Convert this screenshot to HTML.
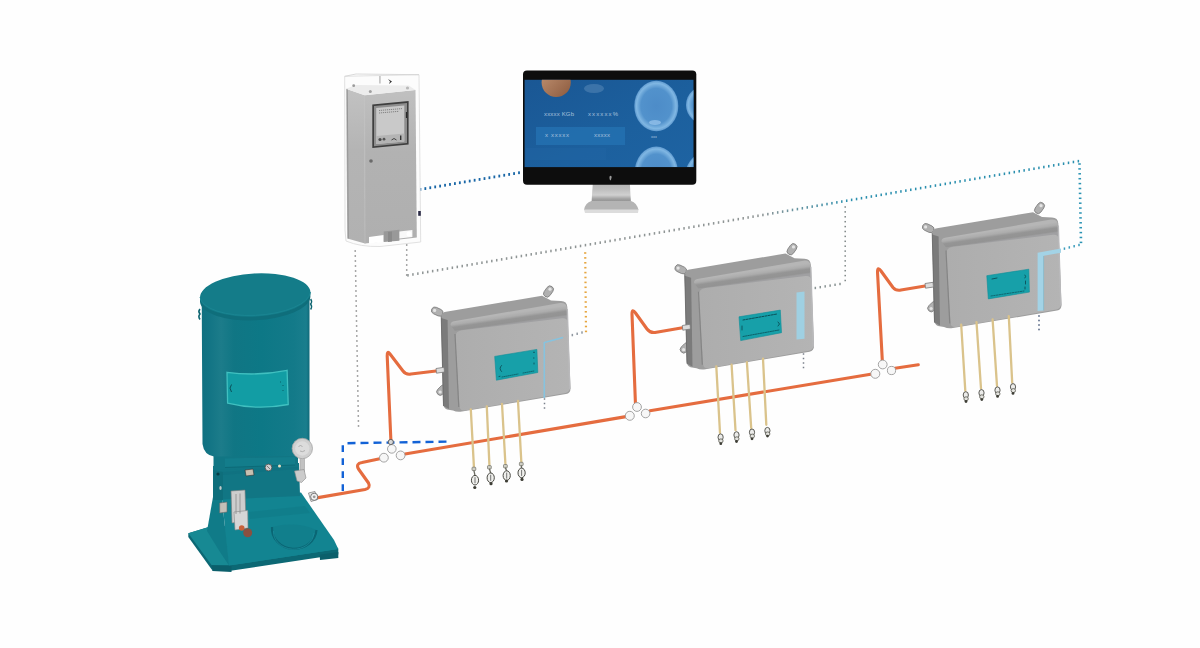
<!DOCTYPE html>
<html><head><meta charset="utf-8">
<style>
html,body{margin:0;padding:0;background:#fefefe;width:1200px;height:648px;overflow:hidden;font-family:"Liberation Sans",sans-serif;}
svg{display:block;position:absolute;left:0;top:0;}
</style></head>
<body>
<svg width="1200" height="648" viewBox="0 0 1200 648">
<defs>
  <linearGradient id="tankG" x1="0" x2="1" y1="0" y2="0">
    <stop offset="0" stop-color="#107080"/>
    <stop offset="0.08" stop-color="#137585"/>
    <stop offset="0.18" stop-color="#1c7c8a"/>
    <stop offset="0.3" stop-color="#107684"/>
    <stop offset="0.55" stop-color="#0d7886"/>
    <stop offset="0.85" stop-color="#137a89"/>
    <stop offset="0.97" stop-color="#1a7e8d"/>
    <stop offset="1" stop-color="#106a7a"/>
  </linearGradient>
  <linearGradient id="screenG" x1="0" x2="1" y1="0" y2="1">
    <stop offset="0" stop-color="#1a5794"/>
    <stop offset="0.6" stop-color="#1c609e"/>
    <stop offset="1" stop-color="#1e63a2"/>
  </linearGradient>
</defs>

<!-- ===== dotted network lines ===== -->
<g id="dots">
<rect x="354.45" y="250.25" width="1.50" height="1.50" fill="#8a8a8a"/>
<rect x="354.54" y="255.25" width="1.50" height="1.50" fill="#8a8a8a"/>
<rect x="354.64" y="260.25" width="1.50" height="1.50" fill="#8a8a8a"/>
<rect x="354.73" y="265.25" width="1.50" height="1.50" fill="#8a8a8a"/>
<rect x="354.83" y="270.25" width="1.50" height="1.50" fill="#8a8a8a"/>
<rect x="354.92" y="275.25" width="1.50" height="1.50" fill="#8a8a8a"/>
<rect x="355.02" y="280.24" width="1.50" height="1.50" fill="#8a8a8a"/>
<rect x="355.11" y="285.24" width="1.50" height="1.50" fill="#8a8a8a"/>
<rect x="355.20" y="290.24" width="1.50" height="1.50" fill="#8a8a8a"/>
<rect x="355.30" y="295.24" width="1.50" height="1.50" fill="#8a8a8a"/>
<rect x="355.39" y="300.24" width="1.50" height="1.50" fill="#8a8a8a"/>
<rect x="355.49" y="305.24" width="1.50" height="1.50" fill="#8a8a8a"/>
<rect x="355.58" y="310.24" width="1.50" height="1.50" fill="#8a8a8a"/>
<rect x="355.68" y="315.24" width="1.50" height="1.50" fill="#8a8a8a"/>
<rect x="355.77" y="320.24" width="1.50" height="1.50" fill="#8a8a8a"/>
<rect x="355.86" y="325.24" width="1.50" height="1.50" fill="#8a8a8a"/>
<rect x="355.96" y="330.24" width="1.50" height="1.50" fill="#8a8a8a"/>
<rect x="356.05" y="335.23" width="1.50" height="1.50" fill="#8a8a8a"/>
<rect x="356.15" y="340.23" width="1.50" height="1.50" fill="#8a8a8a"/>
<rect x="356.24" y="345.23" width="1.50" height="1.50" fill="#8a8a8a"/>
<rect x="356.34" y="350.23" width="1.50" height="1.50" fill="#8a8a8a"/>
<rect x="356.43" y="355.23" width="1.50" height="1.50" fill="#8a8a8a"/>
<rect x="356.52" y="360.23" width="1.50" height="1.50" fill="#8a8a8a"/>
<rect x="356.62" y="365.23" width="1.50" height="1.50" fill="#8a8a8a"/>
<rect x="356.71" y="370.23" width="1.50" height="1.50" fill="#8a8a8a"/>
<rect x="356.81" y="375.23" width="1.50" height="1.50" fill="#8a8a8a"/>
<rect x="356.90" y="380.23" width="1.50" height="1.50" fill="#8a8a8a"/>
<rect x="357.00" y="385.23" width="1.50" height="1.50" fill="#8a8a8a"/>
<rect x="357.09" y="390.23" width="1.50" height="1.50" fill="#8a8a8a"/>
<rect x="357.18" y="395.22" width="1.50" height="1.50" fill="#8a8a8a"/>
<rect x="357.28" y="400.22" width="1.50" height="1.50" fill="#8a8a8a"/>
<rect x="357.37" y="405.22" width="1.50" height="1.50" fill="#8a8a8a"/>
<rect x="357.47" y="410.22" width="1.50" height="1.50" fill="#8a8a8a"/>
<rect x="357.56" y="415.22" width="1.50" height="1.50" fill="#8a8a8a"/>
<rect x="357.66" y="420.22" width="1.50" height="1.50" fill="#8a8a8a"/>
<rect x="357.75" y="425.22" width="1.50" height="1.50" fill="#8a8a8a"/>
<rect x="405.95" y="244.25" width="1.50" height="1.50" fill="#8a8a8a"/>
<rect x="405.95" y="249.25" width="1.50" height="1.50" fill="#8a8a8a"/>
<rect x="405.95" y="254.25" width="1.50" height="1.50" fill="#8a8a8a"/>
<rect x="405.95" y="259.25" width="1.50" height="1.50" fill="#8a8a8a"/>
<rect x="405.95" y="264.25" width="1.50" height="1.50" fill="#8a8a8a"/>
<rect x="405.95" y="269.25" width="1.50" height="1.50" fill="#8a8a8a"/>
<rect x="405.95" y="274.25" width="1.50" height="1.50" fill="#8a8a8a"/>
<rect x="407.25" y="274.00" width="1.50" height="2.60" fill="#8f9595"/>
<rect x="412.18" y="273.16" width="1.50" height="2.60" fill="#8f9595"/>
<rect x="417.11" y="272.32" width="1.50" height="2.60" fill="#8f9595"/>
<rect x="422.04" y="271.49" width="1.50" height="2.60" fill="#8f9595"/>
<rect x="426.97" y="270.65" width="1.50" height="2.60" fill="#8f9595"/>
<rect x="431.90" y="269.81" width="1.50" height="2.60" fill="#8f9595"/>
<rect x="436.83" y="268.97" width="1.50" height="2.60" fill="#8f9595"/>
<rect x="441.75" y="268.13" width="1.50" height="2.60" fill="#8f9595"/>
<rect x="446.68" y="267.30" width="1.50" height="2.60" fill="#8f9595"/>
<rect x="451.61" y="266.46" width="1.50" height="2.60" fill="#8f9595"/>
<rect x="456.54" y="265.62" width="1.50" height="2.60" fill="#8f9595"/>
<rect x="461.47" y="264.78" width="1.50" height="2.60" fill="#8f9595"/>
<rect x="466.40" y="263.94" width="1.50" height="2.60" fill="#8f9595"/>
<rect x="471.33" y="263.11" width="1.50" height="2.60" fill="#8f9595"/>
<rect x="476.26" y="262.27" width="1.50" height="2.60" fill="#8f9595"/>
<rect x="481.19" y="261.43" width="1.50" height="2.60" fill="#8f9595"/>
<rect x="486.12" y="260.59" width="1.50" height="2.60" fill="#8f9595"/>
<rect x="491.05" y="259.75" width="1.50" height="2.60" fill="#8f9595"/>
<rect x="495.98" y="258.92" width="1.50" height="2.60" fill="#8f9595"/>
<rect x="500.91" y="258.08" width="1.50" height="2.60" fill="#8f9595"/>
<rect x="505.84" y="257.24" width="1.50" height="2.60" fill="#8f9595"/>
<rect x="510.76" y="256.40" width="1.50" height="2.60" fill="#8f9595"/>
<rect x="515.69" y="255.56" width="1.50" height="2.60" fill="#8f9595"/>
<rect x="520.62" y="254.73" width="1.50" height="2.60" fill="#8f9595"/>
<rect x="525.55" y="253.89" width="1.50" height="2.60" fill="#8f9595"/>
<rect x="530.48" y="253.05" width="1.50" height="2.60" fill="#8f9595"/>
<rect x="535.41" y="252.21" width="1.50" height="2.60" fill="#8f9595"/>
<rect x="540.34" y="251.37" width="1.50" height="2.60" fill="#8f9595"/>
<rect x="545.27" y="250.54" width="1.50" height="2.60" fill="#8f9595"/>
<rect x="550.20" y="249.70" width="1.50" height="2.60" fill="#8f9595"/>
<rect x="555.13" y="248.86" width="1.50" height="2.60" fill="#8f9595"/>
<rect x="560.06" y="248.02" width="1.50" height="2.60" fill="#8f9595"/>
<rect x="564.99" y="247.18" width="1.50" height="2.60" fill="#8f9595"/>
<rect x="569.92" y="246.35" width="1.50" height="2.60" fill="#8f9595"/>
<rect x="574.85" y="245.51" width="1.50" height="2.60" fill="#8f9595"/>
<rect x="579.77" y="244.67" width="1.50" height="2.60" fill="#8f9595"/>
<rect x="584.70" y="243.83" width="1.50" height="2.60" fill="#8f9595"/>
<rect x="589.63" y="242.99" width="1.50" height="2.60" fill="#8f9595"/>
<rect x="594.56" y="242.16" width="1.50" height="2.60" fill="#8f9595"/>
<rect x="599.49" y="241.32" width="1.50" height="2.60" fill="#8f9595"/>
<rect x="604.42" y="240.48" width="1.50" height="2.60" fill="#8f9595"/>
<rect x="609.35" y="239.64" width="1.50" height="2.60" fill="#8f9595"/>
<rect x="614.28" y="238.80" width="1.50" height="2.60" fill="#8f9595"/>
<rect x="619.21" y="237.97" width="1.50" height="2.60" fill="#8f9595"/>
<rect x="624.14" y="237.13" width="1.50" height="2.60" fill="#8f9595"/>
<rect x="629.07" y="236.29" width="1.50" height="2.60" fill="#8f9595"/>
<rect x="634.00" y="235.45" width="1.50" height="2.60" fill="#8f9595"/>
<rect x="638.93" y="234.62" width="1.50" height="2.60" fill="#8f9595"/>
<rect x="643.86" y="233.78" width="1.50" height="2.60" fill="#8f9595"/>
<rect x="648.78" y="232.94" width="1.50" height="2.60" fill="#8f9595"/>
<rect x="653.71" y="232.10" width="1.50" height="2.60" fill="#8f9595"/>
<rect x="658.64" y="231.26" width="1.50" height="2.60" fill="#8f9595"/>
<rect x="663.57" y="230.43" width="1.50" height="2.60" fill="#8f9595"/>
<rect x="668.50" y="229.59" width="1.50" height="2.60" fill="#8f9595"/>
<rect x="673.43" y="228.75" width="1.50" height="2.60" fill="#8f9595"/>
<rect x="678.36" y="227.91" width="1.50" height="2.60" fill="#8f9595"/>
<rect x="683.29" y="227.07" width="1.50" height="2.60" fill="#8f9595"/>
<rect x="688.22" y="226.24" width="1.50" height="2.60" fill="#8f9595"/>
<rect x="693.15" y="225.40" width="1.50" height="2.60" fill="#8f9595"/>
<rect x="698.08" y="224.56" width="1.50" height="2.60" fill="#8f9595"/>
<rect x="703.01" y="223.72" width="1.50" height="2.60" fill="#8f9595"/>
<rect x="707.94" y="222.88" width="1.50" height="2.60" fill="#8f9595"/>
<rect x="712.87" y="222.05" width="1.50" height="2.60" fill="#8f9595"/>
<rect x="717.79" y="221.21" width="1.50" height="2.60" fill="#8f9595"/>
<rect x="722.72" y="220.37" width="1.50" height="2.60" fill="#8f9595"/>
<rect x="727.65" y="219.53" width="1.50" height="2.60" fill="#8f9595"/>
<rect x="732.58" y="218.69" width="1.50" height="2.60" fill="#8f9595"/>
<rect x="737.51" y="217.86" width="1.50" height="2.60" fill="#8f9595"/>
<rect x="742.44" y="217.02" width="1.50" height="2.60" fill="#8f9595"/>
<rect x="747.37" y="216.18" width="1.50" height="2.60" fill="#8f9595"/>
<rect x="752.30" y="215.34" width="1.50" height="2.60" fill="#8f9595"/>
<rect x="757.23" y="214.50" width="1.50" height="2.60" fill="#8f9595"/>
<rect x="762.16" y="213.67" width="1.50" height="2.60" fill="#8c9596"/>
<rect x="767.09" y="212.83" width="1.50" height="2.60" fill="#869497"/>
<rect x="772.02" y="211.99" width="1.50" height="2.60" fill="#819499"/>
<rect x="776.95" y="211.15" width="1.50" height="2.60" fill="#7b949a"/>
<rect x="781.88" y="210.31" width="1.50" height="2.60" fill="#76939b"/>
<rect x="786.80" y="209.48" width="1.50" height="2.60" fill="#70939d"/>
<rect x="791.73" y="208.64" width="1.50" height="2.60" fill="#6b939e"/>
<rect x="796.66" y="207.80" width="1.50" height="2.60" fill="#65939f"/>
<rect x="801.59" y="206.96" width="1.50" height="2.60" fill="#5f92a1"/>
<rect x="806.52" y="206.12" width="1.50" height="2.60" fill="#5a92a2"/>
<rect x="811.45" y="205.29" width="1.50" height="2.60" fill="#5492a4"/>
<rect x="816.38" y="204.45" width="1.50" height="2.60" fill="#4f91a5"/>
<rect x="821.31" y="203.61" width="1.50" height="2.60" fill="#4991a6"/>
<rect x="826.24" y="202.77" width="1.50" height="2.60" fill="#4491a8"/>
<rect x="831.17" y="201.93" width="1.50" height="2.60" fill="#3e90a9"/>
<rect x="836.10" y="201.10" width="1.50" height="2.60" fill="#3990aa"/>
<rect x="841.03" y="200.26" width="1.50" height="2.60" fill="#3390ac"/>
<rect x="845.96" y="199.42" width="1.50" height="2.60" fill="#2e8fad"/>
<rect x="850.88" y="198.58" width="1.50" height="2.60" fill="#2a8fae"/>
<rect x="855.81" y="197.74" width="1.50" height="2.60" fill="#2a8fae"/>
<rect x="860.74" y="196.90" width="1.50" height="2.60" fill="#2a8fae"/>
<rect x="865.67" y="196.05" width="1.50" height="2.60" fill="#2a8fae"/>
<rect x="870.60" y="195.21" width="1.50" height="2.60" fill="#2a8fae"/>
<rect x="875.53" y="194.37" width="1.50" height="2.60" fill="#2a8fae"/>
<rect x="880.46" y="193.53" width="1.50" height="2.60" fill="#2a8fae"/>
<rect x="885.39" y="192.69" width="1.50" height="2.60" fill="#2a8fae"/>
<rect x="890.31" y="191.85" width="1.50" height="2.60" fill="#2a8fae"/>
<rect x="895.24" y="191.00" width="1.50" height="2.60" fill="#2a8fae"/>
<rect x="900.17" y="190.16" width="1.50" height="2.60" fill="#2a8fae"/>
<rect x="905.10" y="189.32" width="1.50" height="2.60" fill="#2a8fae"/>
<rect x="910.03" y="188.48" width="1.50" height="2.60" fill="#2a8fae"/>
<rect x="914.96" y="187.64" width="1.50" height="2.60" fill="#2a8fae"/>
<rect x="919.89" y="186.80" width="1.50" height="2.60" fill="#2a8fae"/>
<rect x="924.81" y="185.95" width="1.50" height="2.60" fill="#2a8fae"/>
<rect x="929.74" y="185.11" width="1.50" height="2.60" fill="#2a8fae"/>
<rect x="934.67" y="184.27" width="1.50" height="2.60" fill="#2a8fae"/>
<rect x="939.60" y="183.43" width="1.50" height="2.60" fill="#2a8fae"/>
<rect x="944.53" y="182.59" width="1.50" height="2.60" fill="#2a8fae"/>
<rect x="949.46" y="181.75" width="1.50" height="2.60" fill="#2a8fae"/>
<rect x="954.39" y="180.90" width="1.50" height="2.60" fill="#2a8fae"/>
<rect x="959.31" y="180.06" width="1.50" height="2.60" fill="#2a8fae"/>
<rect x="964.24" y="179.22" width="1.50" height="2.60" fill="#2a8fae"/>
<rect x="969.17" y="178.38" width="1.50" height="2.60" fill="#2a8fae"/>
<rect x="974.10" y="177.54" width="1.50" height="2.60" fill="#2a8fae"/>
<rect x="979.03" y="176.70" width="1.50" height="2.60" fill="#2a8fae"/>
<rect x="983.96" y="175.85" width="1.50" height="2.60" fill="#2a8fae"/>
<rect x="988.89" y="175.01" width="1.50" height="2.60" fill="#2a8fae"/>
<rect x="993.82" y="174.17" width="1.50" height="2.60" fill="#2a8fae"/>
<rect x="998.74" y="173.33" width="1.50" height="2.60" fill="#2a8fae"/>
<rect x="1003.67" y="172.49" width="1.50" height="2.60" fill="#2a8fae"/>
<rect x="1008.60" y="171.65" width="1.50" height="2.60" fill="#2a8fae"/>
<rect x="1013.53" y="170.80" width="1.50" height="2.60" fill="#2a8fae"/>
<rect x="1018.46" y="169.96" width="1.50" height="2.60" fill="#2a8fae"/>
<rect x="1023.39" y="169.12" width="1.50" height="2.60" fill="#2a8fae"/>
<rect x="1028.32" y="168.28" width="1.50" height="2.60" fill="#2a8fae"/>
<rect x="1033.24" y="167.44" width="1.50" height="2.60" fill="#2a8fae"/>
<rect x="1038.17" y="166.60" width="1.50" height="2.60" fill="#2a8fae"/>
<rect x="1043.10" y="165.75" width="1.50" height="2.60" fill="#2a8fae"/>
<rect x="1048.03" y="164.91" width="1.50" height="2.60" fill="#2a8fae"/>
<rect x="1052.96" y="164.07" width="1.50" height="2.60" fill="#2a8fae"/>
<rect x="1057.89" y="163.23" width="1.50" height="2.60" fill="#2a8fae"/>
<rect x="1062.82" y="162.39" width="1.50" height="2.60" fill="#2a8fae"/>
<rect x="1067.75" y="161.55" width="1.50" height="2.60" fill="#2a8fae"/>
<rect x="1072.67" y="160.70" width="1.50" height="2.60" fill="#2a8fae"/>
<rect x="1077.60" y="159.86" width="1.50" height="2.60" fill="#2a8fae"/>
<rect x="1078.20" y="163.25" width="2.60" height="1.50" fill="#2a93b3"/>
<rect x="1078.29" y="168.15" width="2.60" height="1.50" fill="#2a93b3"/>
<rect x="1078.39" y="173.05" width="2.60" height="1.50" fill="#2a93b3"/>
<rect x="1078.48" y="177.95" width="2.60" height="1.50" fill="#2a93b3"/>
<rect x="1078.57" y="182.85" width="2.60" height="1.50" fill="#2a93b3"/>
<rect x="1078.67" y="187.75" width="2.60" height="1.50" fill="#2a93b3"/>
<rect x="1078.76" y="192.64" width="2.60" height="1.50" fill="#2a93b3"/>
<rect x="1078.85" y="197.54" width="2.60" height="1.50" fill="#2a93b3"/>
<rect x="1078.95" y="202.44" width="2.60" height="1.50" fill="#2a93b3"/>
<rect x="1079.04" y="207.34" width="2.60" height="1.50" fill="#2a93b3"/>
<rect x="1079.13" y="212.24" width="2.60" height="1.50" fill="#2a93b3"/>
<rect x="1079.23" y="217.14" width="2.60" height="1.50" fill="#2a93b3"/>
<rect x="1079.32" y="222.04" width="2.60" height="1.50" fill="#2a93b3"/>
<rect x="1079.41" y="226.94" width="2.60" height="1.50" fill="#2a93b3"/>
<rect x="1079.51" y="231.84" width="2.60" height="1.50" fill="#2a93b3"/>
<rect x="1079.60" y="236.74" width="2.60" height="1.50" fill="#2a93b3"/>
<rect x="1079.69" y="241.64" width="2.60" height="1.50" fill="#2a93b3"/>
<rect x="1078.25" y="243.80" width="1.50" height="2.40" fill="#3a9cbc"/>
<rect x="1073.40" y="245.01" width="1.50" height="2.40" fill="#3a9cbc"/>
<rect x="1068.55" y="246.23" width="1.50" height="2.40" fill="#3a9cbc"/>
<rect x="1063.70" y="247.44" width="1.50" height="2.40" fill="#3a9cbc"/>
<rect x="419.50" y="188.00" width="1.80" height="2.80" fill="#1866a6"/>
<rect x="424.43" y="187.17" width="1.80" height="2.80" fill="#1866a6"/>
<rect x="429.36" y="186.33" width="1.80" height="2.80" fill="#1866a6"/>
<rect x="434.29" y="185.50" width="1.80" height="2.80" fill="#1866a6"/>
<rect x="439.22" y="184.67" width="1.80" height="2.80" fill="#1866a6"/>
<rect x="444.15" y="183.84" width="1.80" height="2.80" fill="#1866a6"/>
<rect x="449.08" y="183.00" width="1.80" height="2.80" fill="#1866a6"/>
<rect x="454.01" y="182.17" width="1.80" height="2.80" fill="#1866a6"/>
<rect x="458.94" y="181.34" width="1.80" height="2.80" fill="#1866a6"/>
<rect x="463.87" y="180.50" width="1.80" height="2.80" fill="#1866a6"/>
<rect x="468.80" y="179.67" width="1.80" height="2.80" fill="#1866a6"/>
<rect x="473.73" y="178.84" width="1.80" height="2.80" fill="#1866a6"/>
<rect x="478.66" y="178.00" width="1.80" height="2.80" fill="#1866a6"/>
<rect x="483.59" y="177.17" width="1.80" height="2.80" fill="#1866a6"/>
<rect x="488.52" y="176.34" width="1.80" height="2.80" fill="#1866a6"/>
<rect x="493.45" y="175.51" width="1.80" height="2.80" fill="#1866a6"/>
<rect x="498.38" y="174.67" width="1.80" height="2.80" fill="#1866a6"/>
<rect x="503.31" y="173.84" width="1.80" height="2.80" fill="#1866a6"/>
<rect x="508.24" y="173.01" width="1.80" height="2.80" fill="#1866a6"/>
<rect x="513.17" y="172.17" width="1.80" height="2.80" fill="#1866a6"/>
<rect x="518.10" y="171.34" width="1.80" height="2.80" fill="#1866a6"/>
<rect x="844.45" y="206.25" width="1.50" height="1.50" fill="#7e8686"/>
<rect x="844.45" y="211.15" width="1.50" height="1.50" fill="#7e8686"/>
<rect x="844.45" y="216.05" width="1.50" height="1.50" fill="#7e8686"/>
<rect x="844.45" y="220.95" width="1.50" height="1.50" fill="#7e8686"/>
<rect x="844.45" y="225.85" width="1.50" height="1.50" fill="#7e8686"/>
<rect x="844.45" y="230.75" width="1.50" height="1.50" fill="#7e8686"/>
<rect x="844.45" y="235.65" width="1.50" height="1.50" fill="#7e8686"/>
<rect x="844.45" y="240.55" width="1.50" height="1.50" fill="#7e8686"/>
<rect x="844.45" y="245.45" width="1.50" height="1.50" fill="#7e8686"/>
<rect x="844.45" y="250.35" width="1.50" height="1.50" fill="#7e8686"/>
<rect x="844.45" y="255.25" width="1.50" height="1.50" fill="#7e8686"/>
<rect x="844.45" y="260.15" width="1.50" height="1.50" fill="#7e8686"/>
<rect x="844.45" y="265.05" width="1.50" height="1.50" fill="#7e8686"/>
<rect x="844.45" y="269.95" width="1.50" height="1.50" fill="#7e8686"/>
<rect x="844.45" y="274.85" width="1.50" height="1.50" fill="#7e8686"/>
<rect x="844.45" y="279.75" width="1.50" height="1.50" fill="#7e8686"/>
<rect x="839.25" y="282.80" width="1.50" height="2.40" fill="#8a9494"/>
<rect x="834.31" y="283.59" width="1.50" height="2.40" fill="#8a9494"/>
<rect x="829.38" y="284.39" width="1.50" height="2.40" fill="#8a9494"/>
<rect x="824.44" y="285.18" width="1.50" height="2.40" fill="#8a9494"/>
<rect x="819.50" y="285.97" width="1.50" height="2.40" fill="#8a9494"/>
<rect x="814.57" y="286.77" width="1.50" height="2.40" fill="#8a9494"/>
<rect x="584.10" y="252.20" width="2.20" height="1.60" fill="#e6a640"/>
<rect x="584.15" y="257.10" width="2.20" height="1.60" fill="#e6a640"/>
<rect x="584.20" y="262.00" width="2.20" height="1.60" fill="#e6a640"/>
<rect x="584.25" y="266.90" width="2.20" height="1.60" fill="#e6a640"/>
<rect x="584.30" y="271.80" width="2.20" height="1.60" fill="#e6a640"/>
<rect x="584.35" y="276.70" width="2.20" height="1.60" fill="#e6a640"/>
<rect x="584.40" y="281.60" width="2.20" height="1.60" fill="#e6a640"/>
<rect x="584.45" y="286.50" width="2.20" height="1.60" fill="#e6a640"/>
<rect x="584.50" y="291.40" width="2.20" height="1.60" fill="#e6a640"/>
<rect x="584.55" y="296.30" width="2.20" height="1.60" fill="#e6a640"/>
<rect x="584.60" y="301.20" width="2.20" height="1.60" fill="#e6a640"/>
<rect x="584.65" y="306.10" width="2.20" height="1.60" fill="#e6a640"/>
<rect x="584.70" y="311.00" width="2.20" height="1.60" fill="#e6a640"/>
<rect x="584.75" y="315.90" width="2.20" height="1.60" fill="#e6a640"/>
<rect x="584.80" y="320.80" width="2.20" height="1.60" fill="#e6a640"/>
<rect x="584.85" y="325.70" width="2.20" height="1.60" fill="#e6a640"/>
<rect x="584.90" y="330.60" width="2.20" height="1.60" fill="#e6a640"/>
<rect x="581.25" y="331.30" width="1.50" height="2.40" fill="#9098a0"/>
<rect x="576.42" y="332.58" width="1.50" height="2.40" fill="#9098a0"/>
<rect x="571.58" y="333.86" width="1.50" height="2.40" fill="#9098a0"/>
<rect x="566.75" y="335.14" width="1.50" height="2.40" fill="#9098a0"/>
<rect x="543.75" y="398.25" width="1.50" height="1.50" fill="#7a808a"/>
<rect x="543.75" y="402.75" width="1.50" height="1.50" fill="#7a808a"/>
<rect x="543.75" y="407.25" width="1.50" height="1.50" fill="#7a808a"/>
<rect x="802.75" y="353.25" width="1.50" height="1.50" fill="#7a808a"/>
<rect x="802.75" y="357.75" width="1.50" height="1.50" fill="#7a808a"/>
<rect x="802.75" y="362.25" width="1.50" height="1.50" fill="#7a808a"/>
<rect x="802.75" y="366.75" width="1.50" height="1.50" fill="#7a808a"/>
<rect x="1038.20" y="315.20" width="1.60" height="1.60" fill="#5a6a88"/>
<rect x="1038.20" y="319.70" width="1.60" height="1.60" fill="#5a6a88"/>
<rect x="1038.20" y="324.20" width="1.60" height="1.60" fill="#5a6a88"/>
<rect x="1038.20" y="328.70" width="1.60" height="1.60" fill="#5a6a88"/>
</g>
<!-- blue dashed near pump -->
<path d="M342.8 491.1 L342.8 444" fill="none" stroke="#1262d6" stroke-width="2.4" stroke-dasharray="6.8 6.2"/>
<path d="M347.5 443.2 L449 441.6" fill="none" stroke="#1262d6" stroke-width="2.4" stroke-dasharray="8 5"/>

<!-- ===== cabinet ===== -->
<defs>
  <linearGradient id="cabF" x1="0" x2="0" y1="0" y2="1">
    <stop offset="0" stop-color="#c0c0c0"/>
    <stop offset="0.4" stop-color="#b2b2b2"/>
    <stop offset="1" stop-color="#afafaf"/>
  </linearGradient>
  <linearGradient id="cabS" x1="0" x2="0" y1="0" y2="1">
    <stop offset="0" stop-color="#c2c2c2"/>
    <stop offset="0.4" stop-color="#b4b4b4"/>
    <stop offset="1" stop-color="#b1b1b1"/>
  </linearGradient>
</defs>
<g id="cabinet">
  <path d="M344.7 76.3 L419 74.7 L420.7 242 L380 246.5 Q360 247 346 241 L345 230 Z" fill="#fcfcfc" stroke="#dedede" stroke-width="0.9"/>
  <path d="M344.7 76.3 L356 74 L419 74.7" fill="none" stroke="#d0d0d0" stroke-width="0.8"/>
  <path d="M346 88.7 L364.7 95.3 L365 243.5 L347.3 238.5 Z" fill="url(#cabS)"/>
  <path d="M347.3 88.7 L348.3 238.5" stroke="#8c8c8c" stroke-width="0.8"/>
  <path d="M364.7 95.3 L415.5 90 L416.8 237.5 L365 243.5 Z" fill="url(#cabF)"/>
  <path d="M364.7 95.3 L365 243.5" stroke="#bdbdbd" stroke-width="0.8"/>
  <path d="M346 88.7 L364.7 95.3 L415.5 90 L408.7 85.5 L356 85 Z" fill="#ececec"/>
  <rect x="379" y="76" width="1.8" height="7.5" fill="#c8c8c8"/>
  <path d="M388 79 L392 81.5 L389 84 L390 81.5 Z" fill="#333"/>
  <circle cx="353.7" cy="85.7" r="1.4" fill="#9a9a9a"/>
  <circle cx="370.3" cy="91.5" r="1.5" fill="#a0a0a0"/>
  <circle cx="407.5" cy="88" r="1.6" fill="#b8b8b8"/>
  <path d="M372.3 104.6 L408.6 101 L408.6 144.4 L372.3 147.9 Z" fill="#3e3e3e"/>
  <path d="M374 106 L407 103 L407 143 L374 146.2 Z" fill="#8e8e8e"/>
  <path d="M376.2 108 L404.3 105.5 L404.3 141.5 L376.2 144 Z" fill="#c9c9c9"/>
  <path d="M379 110.5 L402 108.6 M379 113 L399 111.3" stroke="#7a7a7a" stroke-width="0.9" stroke-dasharray="1.2 0.8"/>
  <path d="M376.2 136 L404.3 133.5 L404.3 141.5 L376.2 144 Z" fill="#b4b4b4"/>
  <circle cx="380" cy="139.5" r="1.6" fill="#4a4a4a"/><circle cx="384" cy="139.2" r="1.4" fill="#555"/>
  <path d="M391.5 140 q2.5 -3 5 0" fill="none" stroke="#444" stroke-width="1"/>
  <rect x="400" y="135.5" width="1.4" height="4.5" fill="#333"/>
  <path d="M406.5 112 L406.5 118" stroke="#2a2a2a" stroke-width="1.2"/>
  <circle cx="371" cy="161" r="1.8" fill="#6a6a6a"/>
  <path d="M369 237 L383.7 235 L383.7 242 L369 243.6 Z" fill="#ffffff"/>
  <path d="M383.7 231.5 L399.4 229.8 L399.4 240.7 L383.7 242 Z" fill="#999999"/>
  <path d="M388 232 L392 231.6 L392 241.5 L388 241.9 Z" fill="#8a8a8a"/>
  <path d="M399.4 231.5 L412.4 230 L412.4 237 L399.4 238.5 Z" fill="#f8f8f8"/>
  <circle cx="409" cy="234" r="2.5" fill="#ffffff"/>
  <rect x="418.2" y="211" width="2.6" height="4.8" fill="#2a2a45"/>
</g>

<!-- ===== monitor ===== -->
<defs>
  <radialGradient id="orbG" cx="0.5" cy="0.5" r="0.5">
    <stop offset="0" stop-color="#4d8cc8"/>
    <stop offset="0.7" stop-color="#5292cc"/>
    <stop offset="0.9" stop-color="#80b7e3"/>
    <stop offset="1" stop-color="#5f9ad0"/>
  </radialGradient>
  <linearGradient id="neckG" x1="0" x2="0" y1="0" y2="1">
    <stop offset="0" stop-color="#b4b4b4"/>
    <stop offset="0.3" stop-color="#bdbdbd"/>
    <stop offset="0.6" stop-color="#d0d0d0"/>
    <stop offset="0.8" stop-color="#a0a0a0"/>
    <stop offset="1" stop-color="#8c8c8c"/>
  </linearGradient>
  <linearGradient id="baseG" x1="0" x2="0" y1="0" y2="1">
    <stop offset="0" stop-color="#c4c4c4"/>
    <stop offset="0.7" stop-color="#d4d4d4"/>
    <stop offset="1" stop-color="#e6e6e6"/>
  </linearGradient>
  <linearGradient id="planetG" x1="0" x2="1" y1="0" y2="1">
    <stop offset="0" stop-color="#c29474"/>
    <stop offset="1" stop-color="#8c5a3e"/>
  </linearGradient>
</defs>
<g id="monitor">
  <path d="M592.8 183 L629.8 183 L631 203 L591.5 203 Z" fill="url(#neckG)"/>
  <path d="M591.5 201 L631 201 Q637 203 638.5 210 L584 210 Q585 203 591.5 201 Z" fill="#b4b4b4"/>
  <path d="M584 209.5 L638.5 209.5 L638 213 L585 213 Z" fill="#dcdcdc"/>
  <rect x="523" y="70.4" width="173.3" height="114.3" rx="4" fill="#0d0d0d"/>
  <clipPath id="scr"><rect x="524.6" y="79.8" width="168.9" height="87.3"/></clipPath>
  <rect x="524.6" y="79.8" width="168.9" height="87.3" fill="url(#screenG)"/>
  <g clip-path="url(#scr)">
    <circle cx="556.2" cy="82.5" r="14.6" fill="url(#planetG)"/>
    <ellipse cx="594" cy="88.5" rx="10" ry="4.5" fill="#5283b4" opacity="0.6"/>
    <ellipse cx="656.3" cy="106" rx="22" ry="25.2" fill="url(#orbG)"/>
    <ellipse cx="655" cy="122.5" rx="6" ry="2.5" fill="#9cc8ee" opacity="0.7"/>
    <ellipse cx="708" cy="105" rx="22" ry="20" fill="url(#orbG)"/>
    <ellipse cx="656.3" cy="172" rx="21.5" ry="25.5" fill="url(#orbG)"/>
    <ellipse cx="708" cy="173" rx="22" ry="21" fill="url(#orbG)"/>
    <rect x="536" y="127" width="89" height="18" fill="#2472b2" opacity="0.8"/>
    <rect x="526" y="148" width="80" height="12" fill="#2266a6" opacity="0.4"/>
    <g fill="#b9cde0" font-size="6" font-family="Liberation Sans, sans-serif" opacity="0.9">
      <text x="544" y="116" textLength="30">xxxxx KGb</text>
      <text x="588" y="116" textLength="30">xxxxxx%</text>
      <text x="545" y="136.5" textLength="24">x xxxxx</text>
      <text x="594" y="136.5" textLength="16">xxxxx</text>
      <text x="651" y="138" font-size="4">xxx</text>
    </g>
  </g>
  <path d="M609.5 176.5 q1.5 -1.5 2.2 0.5 q-0.5 2 -1 3.5 q-1.5 -0.5 -1.2 -4 Z" fill="#9a9a9a"/>
</g>

<!-- ===== distributors ===== -->
<defs>
  <linearGradient id="lidG" x1="0" x2="1" y1="0" y2="0">
    <stop offset="0" stop-color="#adadad"/>
    <stop offset="1" stop-color="#b4b4b4"/>
  </linearGradient>
  <linearGradient id="bevG" gradientUnits="userSpaceOnUse" x1="460" y1="320.5" x2="461.5" y2="331">
    <stop offset="0" stop-color="#b6b6b6"/>
    <stop offset="0.3" stop-color="#acacac"/>
    <stop offset="0.55" stop-color="#959595"/>
    <stop offset="0.85" stop-color="#939393"/>
    <stop offset="1" stop-color="#a0a0a2"/>
  </linearGradient>
  <g id="dist">
    <!-- ears -->
    <g fill="#b0b0b0" stroke="#7e7e7e" stroke-width="0.8">
      <rect x="-6" y="-3.5" width="12" height="7" rx="3.5" transform="translate(437.2 311.6) rotate(-155)"/>
      <rect x="-6" y="-3.5" width="12" height="7" rx="3.5" transform="translate(548.5 291.5) rotate(-55)"/>
      <rect x="-6" y="-3.5" width="12" height="7" rx="3.5" transform="translate(442 390) rotate(135)"/>
    </g>
    <g fill="#e4e4e4">
      <circle cx="434.6" cy="310.4" r="1.6"/>
      <circle cx="550" cy="289.2" r="1.6"/>
      <circle cx="440.1" cy="392" r="1.6"/>
    </g>
    <!-- shell -->
    <path d="M441.2 318 Q441.2 312.3 446 311.7 L542 295.8 L551 300.5 L561 301 Q567 301 567.3 307 L570.5 388 Q570.7 393 566 394 L462 411.5 Q457 412.5 453 410.5 L447 409.5 Q443 408 443 402 Z" fill="#9d9d9d"/>
    <path d="M441.2 318 L447.6 320 L449 409 L443.5 406 Z" fill="#7b7b7b"/>
    <path d="M441.2 316 L443.5 406" stroke="#666" stroke-width="0.8" fill="none"/>
    <!-- lid bevel -->
    <path d="M450.5 325 Q450.5 321.7 454 321.2 L560 303 Q566.5 302.3 567 308 L567.5 318.7 L455 331 Z" fill="url(#bevG)"/>
    <!-- lid face -->
    <path d="M455.2 338 Q455.2 331 462 330.3 L562 318.3 Q567.5 317.8 567.8 322.5 L570 387 Q570.3 392 565.5 393 L465 410.5 Q460 411.3 459.5 406 Z" fill="url(#lidG)"/>
    <path d="M455 334 L458.8 407" stroke="#858585" stroke-width="1.2" fill="none"/>
    <path d="M567.3 309 L569.8 389" stroke="#b9b9bb" stroke-width="1.4" fill="none"/>
  </g>
</defs>
<g>
<use href="#dist"/>
<use href="#dist" transform="translate(243.5,-42.3)"/>
<use href="#dist" transform="translate(491,-83.5)"/>
</g>
<!-- labels -->
<g fill="#17a0a9" stroke="#0f8f98" stroke-width="0.6" stroke-linejoin="round">
  <path d="M494.7 356.4 L536.9 349.4 L537.8 372.5 L496.4 380.2 Z"/>
  <path d="M739 316.8 L780.3 310.1 L781.5 332.7 L740.7 340.6 Z"/>
  <path d="M986.8 275.7 L1028.8 269.2 L1029.4 292.1 L988.3 298.9 Z"/>
</g>
<g fill="none" stroke="#0b4f58" stroke-width="0.9" stroke-linecap="round">
  <path d="M501.5 365.5 Q498.5 368.5 501.5 371.5"/>
  <path d="M533.5 352.3 l1 0 M499 376.5 l1 -0.2 M533.5 358 l0.5 0 M534 363 l0 1"/>
  <path d="M502 377 l16 -3 M523 373 l11 -2" stroke-dasharray="1 1" stroke-width="0.7"/>
  <path d="M743 320 l34 -6" stroke-dasharray="2 1.2" stroke-width="1"/>
  <path d="M778 322 l1.5 2 l-1.5 2"/>
  <path d="M742 326 l0 4"/>
  <path d="M743 336.5 l36 -6.5" stroke-dasharray="1.5 1" stroke-width="0.8"/>
  <path d="M992 279 l5 -1"/>
  <path d="M1025 275 q1.5 1.5 0 3 M1025.5 281 l0 3 M1025 287 l0 2"/>
  <path d="M991 296 l33 -5" stroke-dasharray="1.5 1.2" stroke-width="0.7"/>
</g>
<!-- light blue indicators -->
<path d="M544.3 398 L544.3 342.6 L563 337.5" fill="none" stroke="#86c3df" stroke-width="1.6"/>
<path d="M796.5 292.5 L804.5 291.5 L804.5 338.8 L796.5 339.5 Z" fill="#9fd0e2"/>
<path d="M1037.6 252.8 L1061 248.5 L1061 252.8 L1043.6 255.8 L1043.6 310.5 L1037.6 311 Z" fill="#a3d3e6"/>
<path d="M1043.6 256 L1043.6 310.5" stroke="#7fb8cc" stroke-width="0.7"/>

<!-- ===== pipes ===== -->
<g fill="none" stroke="#e56c3f" stroke-width="3.1" stroke-linecap="round" stroke-linejoin="round">
  <path d="M318 497.6 L365 489.5 Q371 488 368.5 483 L358.5 469 Q355.5 463.5 362 462.5 L381 458.6"/>
  <path d="M405 454 L626 416.6"/>
  <path d="M650 410.8 L870.6 374.2"/>
  <path d="M895 368.2 L918.3 364.7"/>
  <!-- risers -->
  <path d="M391 443 L387.2 356 Q387 350 390 354 L403 371 Q406 375 411 374 L436 371"/>
  <path d="M635.5 405 L632 314 Q632 308 635.5 313 L647 329 Q650 333 655 332.5 L684 327.5"/>
  <path d="M882.5 364 L877.5 272 Q877.5 266 881 271 L893 287.5 Q896 291 901 290 L928 285.5"/>
</g>
<!-- fittings -->
<g fill="#f7f7f7" stroke="#9a9a9a" stroke-width="0.9">
  <circle cx="391.8" cy="448.9" r="4.3"/><circle cx="383.9" cy="457.7" r="4.4"/><circle cx="400.6" cy="455.4" r="4.4"/>
  <circle cx="637" cy="407" r="4.4"/><circle cx="629.8" cy="415.8" r="4.5"/><circle cx="645.6" cy="413.5" r="4.3"/>
  <circle cx="882.7" cy="364.5" r="4.4"/><circle cx="875.3" cy="373.8" r="4.5"/><circle cx="891.5" cy="370.5" r="4.1"/>
</g>
<g fill="#d8d8d8" stroke="#555" stroke-width="0.9">
  <circle cx="390.8" cy="442" r="2.6"/>
</g>
<g fill="#dcdcdc" stroke="#7a7a7a" stroke-width="0.8">
  <path d="M436 368.5 L444 367.3 L444.5 372 L436.5 373.2 Z"/>
  <path d="M682.3 325.5 L690 324.3 L690.5 329 L682.8 330.2 Z"/>
  <path d="M925 283.5 L933 282.3 L933.5 287 L925.5 288.2 Z"/>
</g>
<!-- ===== output lines ===== -->
<g fill="none" stroke="#dac38b" stroke-width="2.3" stroke-linecap="round">
<path d="M470.8 409.3 L473.9 466.4"/>
<path d="M486.8 406.5 L489.4 464.8"/>
<path d="M502.0 403.8 L505.4 463.7"/>
<path d="M518.0 401.0 L521.3 461.5"/>
<path d="M716.3 366.4 L720 432.9"/>
<path d="M731.6 364.7 L735.5 430.2"/>
<path d="M746.9 362.1 L751.2 428"/>
<path d="M763.0 358.7 L766.3 424.8"/>
<path d="M961.2 324.7 L965.3 390.7"/>
<path d="M976.5 322.1 L981 388.5"/>
<path d="M992.6 319.5 L997 385.8"/>
<path d="M1008.8 316.2 L1012.2 382.6"/>
</g>
<g>
<rect x="472.0" y="467.2" width="3.8" height="3.4" rx="0.8" fill="#cfcfc6" stroke="#5a5a50" stroke-width="0.6"/>
<path d="M473.9 470.4 L475 475.7" stroke="#6a6a60" stroke-width="1.3"/>
<ellipse cx="475" cy="480.2" rx="3.6" ry="4.8" fill="#efefec" stroke="#4a4a44" stroke-width="1"/>
<path d="M475 477.2 L475 483.2" stroke="#555" stroke-width="0.8"/>
<circle cx="474.8" cy="487.5" r="1.6" fill="#3e3e36"/>
<rect x="487.5" y="465.6" width="3.8" height="3.4" rx="0.8" fill="#cfcfc6" stroke="#5a5a50" stroke-width="0.6"/>
<path d="M489.4 468.8 L490.7 473.3" stroke="#6a6a60" stroke-width="1.3"/>
<ellipse cx="490.7" cy="477.8" rx="3.6" ry="4.8" fill="#efefec" stroke="#4a4a44" stroke-width="1"/>
<path d="M490.7 474.8 L490.7 480.8" stroke="#555" stroke-width="0.8"/>
<circle cx="491" cy="483.7" r="1.6" fill="#3e3e36"/>
<rect x="503.5" y="464.5" width="3.8" height="3.4" rx="0.8" fill="#cfcfc6" stroke="#5a5a50" stroke-width="0.6"/>
<path d="M505.4 467.7 L506.7 471.1" stroke="#6a6a60" stroke-width="1.3"/>
<ellipse cx="506.7" cy="475.6" rx="3.6" ry="4.8" fill="#efefec" stroke="#4a4a44" stroke-width="1"/>
<path d="M506.7 472.6 L506.7 478.6" stroke="#555" stroke-width="0.8"/>
<circle cx="506.5" cy="481" r="1.6" fill="#3e3e36"/>
<rect x="519.4" y="462.3" width="3.8" height="3.4" rx="0.8" fill="#cfcfc6" stroke="#5a5a50" stroke-width="0.6"/>
<path d="M521.3 465.5 L521.6 468.4" stroke="#6a6a60" stroke-width="1.3"/>
<ellipse cx="521.6" cy="472.9" rx="3.6" ry="4.8" fill="#efefec" stroke="#4a4a44" stroke-width="1"/>
<path d="M521.6 469.9 L521.6 475.9" stroke="#555" stroke-width="0.8"/>
<circle cx="522" cy="479.4" r="1.6" fill="#3e3e36"/>
<ellipse cx="720.6" cy="437.2" rx="2.6" ry="3.3" fill="#ececea" stroke="#4a4a44" stroke-width="0.9"/>
<ellipse cx="720.9" cy="440.9" rx="2.2" ry="2" fill="#e4e4e0" stroke="#55554c" stroke-width="0.8"/>
<circle cx="720.8" cy="443.7" r="1.4" fill="#3e3e36"/>
<ellipse cx="736.5" cy="435" rx="2.6" ry="3.3" fill="#ececea" stroke="#4a4a44" stroke-width="0.9"/>
<ellipse cx="736.8" cy="438.8" rx="2.2" ry="2" fill="#e4e4e0" stroke="#55554c" stroke-width="0.8"/>
<circle cx="736.5" cy="441.5" r="1.4" fill="#3e3e36"/>
<ellipse cx="752" cy="432.3" rx="2.6" ry="3.3" fill="#ececea" stroke="#4a4a44" stroke-width="0.9"/>
<ellipse cx="752.3" cy="436.1" rx="2.2" ry="2" fill="#e4e4e0" stroke="#55554c" stroke-width="0.8"/>
<circle cx="752" cy="438.8" r="1.4" fill="#3e3e36"/>
<ellipse cx="767.4" cy="430.7" rx="2.6" ry="3.3" fill="#ececea" stroke="#4a4a44" stroke-width="0.9"/>
<ellipse cx="767.7" cy="433.9" rx="2.2" ry="2" fill="#e4e4e0" stroke="#55554c" stroke-width="0.8"/>
<circle cx="767.5" cy="436.1" r="1.4" fill="#3e3e36"/>
<ellipse cx="965.8" cy="395" rx="2.6" ry="3.3" fill="#ececea" stroke="#4a4a44" stroke-width="0.9"/>
<ellipse cx="966.1" cy="398.8" rx="2.2" ry="2" fill="#e4e4e0" stroke="#55554c" stroke-width="0.8"/>
<circle cx="966" cy="401.5" r="1.4" fill="#3e3e36"/>
<ellipse cx="981.5" cy="392.9" rx="2.6" ry="3.3" fill="#ececea" stroke="#4a4a44" stroke-width="0.9"/>
<ellipse cx="981.8" cy="396.8" rx="2.2" ry="2" fill="#e4e4e0" stroke="#55554c" stroke-width="0.8"/>
<circle cx="981.8" cy="399.6" r="1.4" fill="#3e3e36"/>
<ellipse cx="997.5" cy="390.2" rx="2.6" ry="3.3" fill="#ececea" stroke="#4a4a44" stroke-width="0.9"/>
<ellipse cx="997.8" cy="393.8" rx="2.2" ry="2" fill="#e4e4e0" stroke="#55554c" stroke-width="0.8"/>
<circle cx="997.6" cy="396.4" r="1.4" fill="#3e3e36"/>
<ellipse cx="1013" cy="386.9" rx="2.6" ry="3.3" fill="#ececea" stroke="#4a4a44" stroke-width="0.9"/>
<ellipse cx="1013.3" cy="390.6" rx="2.2" ry="2" fill="#e4e4e0" stroke="#55554c" stroke-width="0.8"/>
<circle cx="1013" cy="393.4" r="1.4" fill="#3e3e36"/>
</g>

<!-- ===== pump ===== -->
<g id="pump">
  <!-- base plate -->
  <path d="M188.3 533.3 L212 526 L320 528 L338.3 549 L338.3 554.5 L229 571 L211.7 569.5 L188.3 537 Z" fill="#0c6874"/>
  <path d="M188.3 533.3 L212 526 L320 528 L338.3 549 L229 565.5 L211.7 565.3 Z" fill="#178993"/>
  <path d="M211.7 565.3 L231.5 565.5 L231.5 572 L212.3 571 Z" fill="#0b5f6b"/>
  <path d="M319.7 554.7 L338.3 552 L338.3 558 L320 560 Z" fill="#0b5f6b"/>
  <!-- pedestal -->
  <path d="M222 499 L301 492.5 L334 540 L338.3 549 L229 565.5 Z" fill="#128491"/>
  <path d="M213 497 L222 499 L229 565.5 L220 552 L207 531 Z" fill="#107b88"/>
  <path d="M249 512 L305 506 L310 513 L250 519 Z" fill="#107d8a" opacity="0.8"/>
  <path d="M272 527 A22 20 0 0 0 316.5 530 Q296 521 272 527 Z" fill="#117f8c"/>
  <path d="M272 527 A22 20 0 0 0 316.5 530" fill="none" stroke="#0a6674" stroke-width="2.2"/>
  <path d="M273.5 531 A20 17 0 0 0 314 533" fill="none" stroke="#1a8c9a" stroke-width="0.8"/>
  <!-- housing block -->
  <path d="M213 466 L299 463 L300 496 L213 500 Z" fill="#117684"/>
  <path d="M213 470 L223 472 L223 500 L213 500 Z" fill="#0e6e7b"/>
  <path d="M223 472 L298 466.5 L298 469 L223 475 Z" fill="#0f7080" opacity="0.7"/>
  <!-- collar -->
  <path d="M213.5 454 L298 452 L298 467 L213.5 470 Z" fill="#117684"/>
  <path d="M225 458.5 L295 457 L295 465 L225 467.5 Z" fill="#137d8b"/>
  <path d="M225 467.5 L295 465" stroke="#0d6a77" stroke-width="1"/>
  <!-- tank body -->
  <path d="M201.7 297 L309.5 293 L309.5 445 Q306 456 296 456 L214 456.5 Q204 455 202.5 444 Z" fill="url(#tankG)"/>
  <!-- lid rim band -->
  <path d="M200 297 A55.3 21.6 -3 0 0 310.4 292 L310.4 297 A55.3 21.6 -3 0 1 200 302 Z" fill="#0f6e7b"/>
  <!-- lid top -->
  <ellipse cx="255.2" cy="295" rx="55.3" ry="21.6" transform="rotate(-3 255.2 295)" fill="#147c89"/>
  <path d="M200 297 A55.3 21.6 -3 0 0 310.4 292" fill="none" stroke="#1a8592" stroke-width="1"/>
  <!-- handles -->
  <path d="M200 309 q-2.2 2.5 0 5 q-2.2 2.5 0 5.5" fill="none" stroke="#0c6470" stroke-width="1.6"/>
  <path d="M310.6 299 q2 2.5 0 5 q2 2.5 0 5.5" fill="none" stroke="#0c6470" stroke-width="1.4"/>
  <!-- label -->
  <path d="M227 372.3 Q257 376.5 287.1 370.4 L288.2 404.5 Q257 410.5 227.6 403.1 Z" fill="#129da4" stroke="#40c0c0" stroke-width="1.3"/>
  <path d="M231.5 384.5 Q228.5 388 231.5 392" fill="none" stroke="#0a4f58" stroke-width="1"/>
  <path d="M280 382 l1 0 M283 385 l0 1 M283 390 l0 1" stroke="#0a5a62" stroke-width="0.9"/>
  <!-- gauge -->
  <rect x="300" y="456" width="4.6" height="16" fill="#c2c2c2" stroke="#9a9a9a" stroke-width="0.5"/>
  <path d="M294.5 471 L304 469.5 L306 478 L301.5 482.5 L297 481 Z" fill="#cbcbcb" stroke="#8a8a8a" stroke-width="0.6"/>
  <circle cx="302.3" cy="448.5" r="10.2" fill="#cfcfcf" stroke="#a5a5a5" stroke-width="0.8"/>
  <circle cx="302.3" cy="448.5" r="7.2" fill="#dcdcdc"/>
  <path d="M298.5 446.5 q2 -2 4 0 M300 451 q2.5 1.5 5 -0.5" fill="none" stroke="#999" stroke-width="0.7"/>
  <!-- small parts -->
  <circle cx="268.5" cy="467.5" r="3.4" fill="#cfcfcf" stroke="#4a4a4a" stroke-width="0.8"/>
  <path d="M267 466 l3 3" stroke="#666" stroke-width="0.8"/>
  <circle cx="279.5" cy="466" r="1.5" fill="#e8e0c0"/>
  <path d="M245 470 L253 469 L254 475 L246 476 Z" fill="#c8c0b0" stroke="#333" stroke-width="0.6"/>
  <circle cx="218" cy="474" r="1.6" fill="#063c44"/>
  <ellipse cx="220.5" cy="488" rx="1.2" ry="2" fill="#c0c8c8"/>
  <!-- silver mechanism -->
  <path d="M219.7 503 L227 502 L227 512 L219.7 513 Z" fill="#c4c0b8" stroke="#6a6a6a" stroke-width="0.6"/>
  <path d="M231 491 L245 490 L246 521 L232 523 Z" fill="#cdcdcd" stroke="#7a7a7a" stroke-width="0.6"/>
  <path d="M234 512 L247.7 510.5 L248 528 L235 530 Z" fill="#d6d6d6" stroke="#888" stroke-width="0.6"/>
  <path d="M236 494 l0 20 M240 493.5 l0 20" stroke="#8a8a8a" stroke-width="0.8"/>
  <circle cx="247.7" cy="532.7" r="4.5" fill="#8a5040"/>
  <circle cx="241.7" cy="528" r="2.8" fill="#c8603a"/>
  <!-- outlet fitting -->
  <path d="M308.5 493 L315 491.5 L317.5 499.5 L311 501.5 Z" fill="#e8e8e8" stroke="#777" stroke-width="0.7"/>
  <circle cx="314.2" cy="496.8" r="3.6" fill="#f2f2f2" stroke="#6a6a6a" stroke-width="0.9"/>
  <circle cx="314.2" cy="496.8" r="1.4" fill="#9a9a9a"/>
</g>

</svg>
</body></html>
